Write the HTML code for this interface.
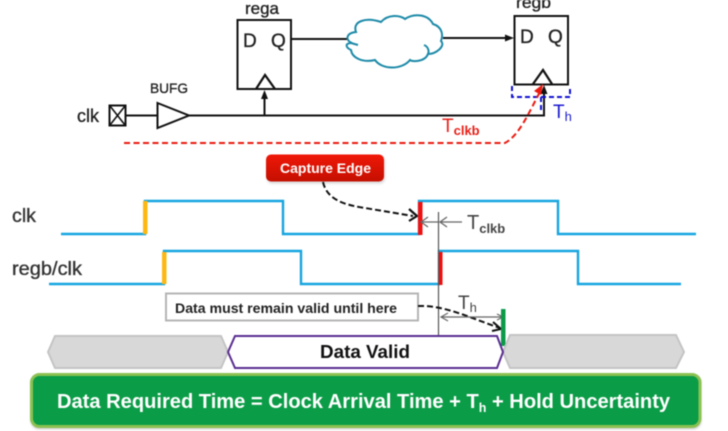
<!DOCTYPE html>
<html><head><meta charset="utf-8">
<style>
html,body{margin:0;padding:0;background:#fff;width:728px;height:431px;overflow:hidden}
svg{display:block;filter:blur(.4px)}
text{font-family:"Liberation Sans",sans-serif}
.w{stroke:currentColor;stroke-width:.35px}
</style></head>
<body>
<svg width="728" height="431" viewBox="0 0 728 431" xmlns="http://www.w3.org/2000/svg">
<defs>
<linearGradient id="red" x1="0" y1="0" x2="0" y2="1"><stop offset="0" stop-color="#f01808"/><stop offset="1" stop-color="#c40f00"/></linearGradient>
<filter id="s" x="-5%" y="-10%" width="110%" height="125%"><feGaussianBlur stdDeviation="1.2"/></filter>
</defs>
<!-- top schematic -->
<g fill="none" stroke="#111" stroke-width="2">
<rect x="237.5" y="20" width="53.5" height="69" fill="#fff"/>
<path d="M256 89 L265 75 L275 89" stroke-width="2.2"/>
<rect x="514.5" y="16" width="53.5" height="68.5" fill="#fff"/>
<path d="M533 84 L543 70 L552 84" stroke-width="2.2"/>
<rect x="109.5" y="105.5" width="16" height="20"/>
<path d="M110 106 L125 125 M125 106 L110 125" stroke-width="1.6"/>
<path d="M126 115.5 H157"/>
<path d="M157.5 103 L189 115.5 L157.5 128 Z"/>
<path d="M189 115.5 H544 V92"/>
<path d="M264.5 115 V97"/>
<path d="M291 39 H347"/>
<path d="M443 38 H508"/>
</g>
<path d="M264.5 90 L261 99 H268 Z" fill="#111"/>
<path d="M544 85 L540.5 94 H547.5 Z" fill="#111"/>
<path d="M514 38 L505 34.5 V41.5 Z" fill="#111"/>
<!-- cloud -->
<path d="M356 32 C352 21 366 17 381 22 C388 14 400 15 405 19 C414 13 428 14 433 24 C443 27 443 36 441 41 C446 46 436 54 428 54 C425 62 412 62 410 60 C402 70 382 70 375 60 C363 63 352 58 351 50 C345 47 345 43 352 43 C345 40 346 33 356 32 Z" fill="#fff" stroke="#1d8aa8" stroke-width="2"/>
<path d="M351 43 L358 45 M424 45 C429 47 429 52 428 54" fill="none" stroke="#1d8aa8" stroke-width="2"/>
<!-- labels -->
<g fill="#222" color="#222">
<text class="w" x="245" y="14" font-size="17" textLength="34" lengthAdjust="spacingAndGlyphs">rega</text>
<text class="w" x="516" y="8" font-size="17" textLength="35" lengthAdjust="spacingAndGlyphs">regb</text>
<text class="w" x="150" y="93" font-size="14" textLength="38" lengthAdjust="spacingAndGlyphs">BUFG</text>
<text class="w" x="77" y="122" font-size="18" textLength="22" lengthAdjust="spacingAndGlyphs">clk</text>
<text class="w" x="243" y="47" font-size="19">D</text>
<text class="w" x="271" y="47" font-size="19">Q</text>
<text class="w" x="520" y="43" font-size="19">D</text>
<text class="w" x="548" y="43" font-size="19">Q</text>
</g>
<!-- blue hold box -->
<path d="M512 86 V97 H570 V86 M541 97 V113" fill="none" stroke="#1010d0" stroke-width="2" stroke-dasharray="5 3"/>
<text x="553" y="118" font-size="19" fill="#1a1ad0">T<tspan font-size="13" dy="3">h</tspan></text>
<!-- red path -->
<path d="M124 143 H505 C520 135 530 110 541 90" fill="none" stroke="#ea1a10" stroke-width="2" stroke-dasharray="6 3.5"/>
<path d="M543 84 L534 91 L541 95 Z" fill="#ea1a10"/>
<text x="442" y="132" font-size="19" fill="#e82018">T<tspan font-size="13" dy="3" font-weight="bold">clkb</tspan></text>
<!-- capture edge -->
<rect x="266" y="155" width="118" height="27" rx="5" fill="#bbb" opacity=".6" transform="translate(1 1.5)" filter="url(#s)"/>
<rect x="266" y="154.5" width="118" height="27" rx="5" fill="url(#red)"/>
<text x="280" y="173" font-size="14" font-weight="bold" fill="#fff" textLength="91" lengthAdjust="spacingAndGlyphs">Capture Edge</text>
<path d="M323 182 C327 200 345 205 365 208 L413 216" fill="none" stroke="#111" stroke-width="2" stroke-dasharray="6 3"/>
<path d="M409 209 L417 216 L409 221" fill="none" stroke="#111" stroke-width="2.2"/>
<!-- waveforms -->
<text class="w" x="12" y="222" font-size="19" fill="#333" color="#333" textLength="24" lengthAdjust="spacingAndGlyphs">clk</text>
<text class="w" x="12" y="275" font-size="19.5" fill="#333" color="#333" textLength="70" lengthAdjust="spacingAndGlyphs">regb/clk</text>
<g fill="none" stroke="#16a4df" stroke-width="2.4">
<path d="M61 234 H145 V201 H283 V234 H419 V201 H558 V234 H696"/>
<path d="M49 284 H164 V251 H301 V284 H439 V251 H578 V284 H681"/>
</g>
<rect x="143" y="201" width="4.5" height="33" fill="#fdb813"/>
<rect x="162" y="252" width="4.5" height="32" fill="#fdb813"/>
<rect x="418" y="202" width="4.5" height="33" fill="#f01010"/>
<rect x="438" y="252" width="4.5" height="33" fill="#f01010"/>
<!-- T clkb measure -->
<path d="M438.5 212 V335" stroke="#555" stroke-width="1.2" fill="none"/>
<g fill="none" stroke="#666" stroke-width="1.3">
<path d="M422 222 H438 M428 217 L421 222 L428 227"/>
<path d="M441 222 H462 M447 217 L440 222 L447 227"/>
</g>
<text x="467" y="229" font-size="20" fill="#444">T<tspan font-size="13" dy="4" font-weight="bold">clkb</tspan></text>
<!-- note -->
<rect x="166" y="293.5" width="252" height="27" fill="#fff" stroke="#b5b5b5" stroke-width="2"/>
<text x="175" y="313" font-size="14" font-weight="bold" fill="#222" textLength="222" lengthAdjust="spacingAndGlyphs">Data must remain valid until here</text>
<path d="M418 306 C445 305 470 318 500 328" fill="none" stroke="#111" stroke-width="2" stroke-dasharray="6 3"/>
<path d="M493 322 L501 329 L492 331" fill="none" stroke="#111" stroke-width="2"/>
<text x="458" y="309" font-size="19" fill="#444">T<tspan font-size="13" dy="3">h</tspan></text>
<g fill="none" stroke="#666" stroke-width="1.2">
<path d="M442 317 H502 M448 313 L441 317 L448 321 M497 314 L503 317 L497 320"/>
</g>
<rect x="501" y="309" width="4.5" height="37" fill="#0c9a48"/>
<!-- bus -->
<path d="M48 352 L55 336 H221 L228 352 L221 368 H55 Z" fill="#d8d8d8" stroke="#c4c4c4" stroke-width="2"/>
<path d="M503 352 L510 335 H676 L684 352 L676 368 H510 Z" fill="#d8d8d8" stroke="#c4c4c4" stroke-width="2"/>
<path d="M228 352 L235 336 H497 L503 352 L497 368 H235 Z" fill="#fff" stroke="#5a2d91" stroke-width="2"/>
<text x="320" y="358" font-size="18.5" font-weight="bold" fill="#111" textLength="90" lengthAdjust="spacingAndGlyphs">Data Valid</text>
<!-- equation -->
<rect x="31" y="375" width="670" height="54" rx="8" fill="#999" opacity=".6" filter="url(#s)"/>
<rect x="31.5" y="374.5" width="668.5" height="52" rx="8" fill="#0b9c47" stroke="#8cc152" stroke-width="3"/>
<text x="57" y="408" font-size="20.1" font-weight="bold" fill="#fff">Data Required Time = Clock Arrival Time + T<tspan font-size="12.5" dy="4">h</tspan><tspan dy="-4"> + Hold Uncertainty</tspan></text>
</svg>
</body></html>
